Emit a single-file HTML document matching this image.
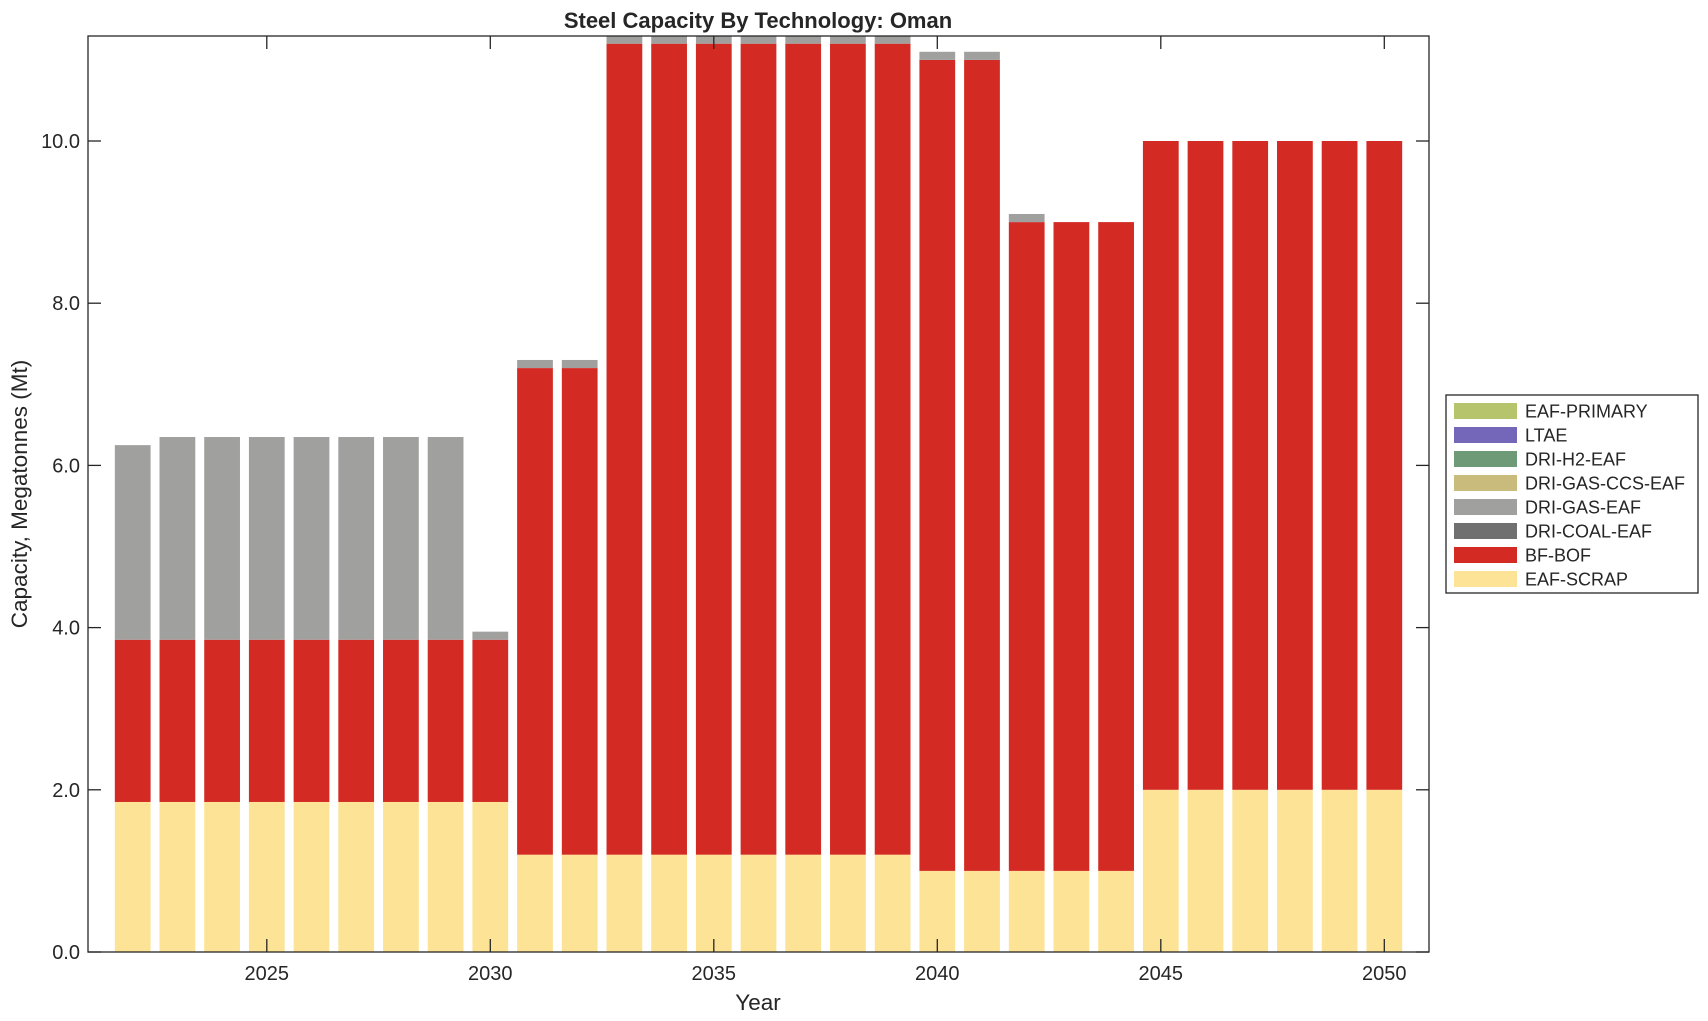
<!DOCTYPE html>
<html><head><meta charset="utf-8"><style>html,body{margin:0;padding:0;background:#fff}svg{display:block}text{font-family:"Liberation Sans",sans-serif;fill:#262626}</style></head>
<body>
<svg id="s" width="1708" height="1021" xmlns="http://www.w3.org/2000/svg">
<rect width="1708" height="1021" fill="#fff"/>
<g id="bars"></g>
<rect x="88" y="36" width="1341" height="916" fill="none" stroke="#262626" stroke-width="1.3"/>
<g id="ticks" stroke="#262626" stroke-width="1.3"></g>
<g id="labels" font-size="20"></g>
<text x="758" y="28" font-size="22" font-weight="bold" text-anchor="middle">Steel Capacity By Technology: Oman</text>
<text x="758" y="1010" font-size="22.5" text-anchor="middle">Year</text>
<text transform="translate(27,494) rotate(-90)" font-size="22.5" text-anchor="middle">Capacity, Megatonnes (Mt)</text>
<rect x="1446" y="395" width="252" height="198" fill="#fff" stroke="#262626" stroke-width="1.3"/>
<g id="leg" font-size="18"></g>
</svg>
<script>
const X0=88,X1=1429,Y0=952,Y1=36,xmin=2021,xmax=2051;
const px=y=>X0+(y-xmin)*(X1-X0)/(xmax-xmin), py=v=>Y0-v*81.1;
const C={s:"#fde396",b:"#d42a24",g:"#a0a09f"};
const data={};
data[2022]=[1.85,2.0,2.4];
for(let y=2023;y<=2029;y++)data[y]=[1.85,2.0,2.5];
data[2030]=[1.85,2.0,0.1];
data[2031]=data[2032]=[1.2,6.0,0.1];
for(let y=2033;y<=2039;y++)data[y]=[1.2,10.0,0.1];
data[2040]=data[2041]=[1.0,10.0,0.1];
data[2042]=[1.0,8.0,0.1];
data[2043]=data[2044]=[1.0,8.0,0];
for(let y=2045;y<=2050;y++)data[y]=[2.0,8.0,0];
let h="";const w=(X1-X0)/30*0.8;
for(let y=2022;y<=2050;y++){let c=0;const d=data[y];[C.s,C.b,C.g].forEach((col,i)=>{if(d[i]>0){let top=Math.max(py(c+d[i]),Y1);h+=`<rect x="${px(y)-w/2}" y="${top}" width="${w}" height="${py(c)-top}" fill="${col}"/>`;}c+=d[i];});}
document.getElementById("bars").innerHTML=h;
let t="",l="";
for(let v=0;v<=10;v+=2){const y=py(v);t+=`<line x1="${X0}" y1="${y}" x2="${X0+13}" y2="${y}"/><line x1="${X1}" y1="${y}" x2="${X1-13}" y2="${y}"/>`;l+=`<text x="80" y="${y+7}" text-anchor="end">${v.toFixed(1)}</text>`;}
for(let yr=2025;yr<=2050;yr+=5){const x=px(yr);t+=`<line x1="${x}" y1="${Y0}" x2="${x}" y2="${Y0-13}"/><line x1="${x}" y1="${Y1}" x2="${x}" y2="${Y1+13}"/>`;l+=`<text x="${x}" y="980" text-anchor="middle">${yr}</text>`;}
document.getElementById("ticks").innerHTML=t;document.getElementById("labels").innerHTML=l;
const L=[["EAF-PRIMARY","#b6c46c"],["LTAE","#7466b8"],["DRI-H2-EAF","#6e9a77"],["DRI-GAS-CCS-EAF","#c8bb7b"],["DRI-GAS-EAF","#a0a09f"],["DRI-COAL-EAF","#707070"],["BF-BOF","#d42a24"],["EAF-SCRAP","#fde396"]];
let g="";L.forEach((e,i)=>{const cy=411+i*24;g+=`<rect x="1454" y="${cy-8}" width="63" height="16" fill="${e[1]}"/><text x="1525" y="${cy+6.5}">${e[0]}</text>`;});
document.getElementById("leg").innerHTML=g;
</script>
</body></html>
